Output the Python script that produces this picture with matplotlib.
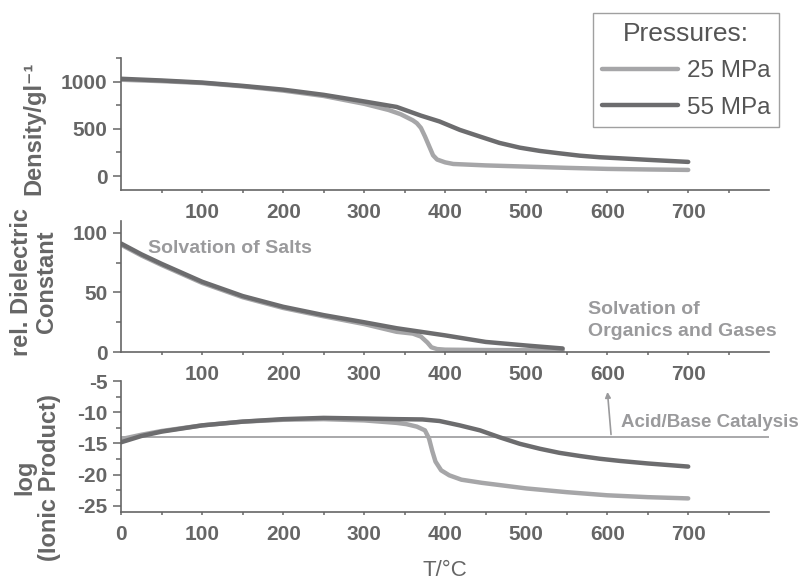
import matplotlib
matplotlib.use("Agg")
import matplotlib.pyplot as plt
from matplotlib.ticker import MultipleLocator, FixedLocator

plt.rcParams['font.family'] = ['Liberation Sans', 'DejaVu Sans']
plt.rcParams['axes.unicode_minus'] = False

# --- data ---
pressures = ['25 MPa', '55 MPa']

dens_t_25 = [0, 50, 100, 150, 200, 250, 300, 330, 345, 360, 365, 370, 375, 380, 385, 390, 400, 410, 450, 500, 550, 600, 650, 700]
dens_25 = [1020, 1005, 985, 950, 905, 848, 765, 700, 655, 590, 560, 510, 420, 320, 220, 175, 145, 128, 113, 100, 87, 76, 70, 65]
dens_t_55 = [0, 50, 100, 150, 200, 250, 300, 340, 370, 393, 418, 443, 467, 492, 517, 541, 566, 591, 616, 650, 700]
dens_55 = [1030, 1012, 990, 955, 915, 860, 790, 732, 640, 578, 489, 418, 351, 301, 266, 241, 216, 199, 188, 172, 150]

diel_t_25 = [0, 25, 50, 100, 150, 200, 250, 300, 340, 360, 370, 378, 383, 390, 400, 450, 500, 545]
diel_25 = [90, 81, 73, 58, 46, 37, 30, 23.5, 17, 15.5, 13, 8, 4, 2.5, 2.0, 1.7, 1.5, 1.4]
diel_t_55 = [0, 25, 50, 100, 150, 200, 250, 300, 340, 400, 450, 500, 545]
diel_55 = [91, 82, 74, 59, 47, 38, 31, 25, 20, 14, 8.5, 5.5, 3]

ion_t_25 = [0, 25, 50, 100, 150, 200, 250, 300, 340, 352, 365, 375, 380, 384, 388, 395, 405, 420, 445, 500, 550, 600, 650, 700]
ion_25 = [-14.3, -13.6, -13.0, -12.1, -11.5, -11.2, -11.1, -11.3, -11.7, -11.9, -12.3, -12.9, -14.2, -16.2, -17.9, -19.3, -20.1, -20.8, -21.3, -22.2, -22.8, -23.3, -23.6, -23.8]
ion_t_55 = [0, 25, 50, 100, 150, 200, 250, 300, 340, 372, 393, 418, 443, 467, 492, 517, 541, 566, 591, 616, 650, 700]
ion_55 = [-14.8, -13.8, -13.1, -12.1, -11.5, -11.1, -10.9, -11.0, -11.1, -11.15, -11.4, -12.1, -12.9, -14.0, -15.05, -15.85, -16.5, -17.0, -17.45, -17.8, -18.2, -18.7]

acid_base_level = -14

light = '#a6a6a8'
dark = '#6c6c6e'
axis_grey = '#666666'
note_grey = '#9a9a9c'

fig = plt.figure(figsize=(8.08, 5.8), dpi=100)
left, width = 0.150, 0.802
ax1 = fig.add_axes([left, 0.672, width, 0.228])
ax2 = fig.add_axes([left, 0.393, width, 0.226])
ax3 = fig.add_axes([left, 0.117, width, 0.226])


def style(ax, ylim, ymajor, yminor, xlabels_from):
    ax.set_xlim(0, 800)
    ax.set_ylim(*ylim)
    for s in ['top', 'right']:
        ax.spines[s].set_visible(False)
    for s in ['left', 'bottom']:
        ax.spines[s].set_color(axis_grey)
        ax.spines[s].set_linewidth(1.2)
    ax.xaxis.set_major_locator(FixedLocator(list(range(xlabels_from, 800, 100))))
    ax.xaxis.set_minor_locator(FixedLocator(list(range(50, 800, 100))))
    ax.yaxis.set_major_locator(MultipleLocator(ymajor))
    ax.yaxis.set_minor_locator(MultipleLocator(yminor))
    ax.tick_params(axis='x', which='both', length=2.5, width=1.1, color=axis_grey,
                   labelsize=15, labelcolor=axis_grey, pad=7)
    ax.tick_params(axis='y', which='major', length=6, width=1.1, color=axis_grey,
                   labelsize=15, labelcolor=axis_grey, pad=4)
    ax.tick_params(axis='y', which='minor', length=3.5, width=1.1, color=axis_grey)
    for lab in ax.get_xticklabels() + ax.get_yticklabels():
        lab.set_fontweight('bold')


# density
l1, = ax1.plot(dens_t_25, dens_25, color=light, lw=3.2, solid_capstyle='round', solid_joinstyle='round')
l2, = ax1.plot(dens_t_55, dens_55, color=dark, lw=3.2, solid_capstyle='round', solid_joinstyle='round')
style(ax1, (-150, 1250), 500, 250, 100)

# dielectric constant
ax2.plot(diel_t_25, diel_25, color=light, lw=3.2, solid_capstyle='round', solid_joinstyle='round')
ax2.plot(diel_t_55, diel_55, color=dark, lw=3.2, solid_capstyle='round', solid_joinstyle='round')
style(ax2, (0, 110), 50, 25, 100)
ax2.text(33, 87, 'Solvation of Salts', color=note_grey, fontsize=14, fontweight='bold', va='center')
ax2.text(576, 26.5, 'Solvation of\nOrganics and Gases', color=note_grey, fontsize=14,
         fontweight='bold', va='center', linespacing=1.35)

# ionic product
ax3.axhline(acid_base_level, color=note_grey, lw=1.2)
ax3.plot(ion_t_25, ion_25, color=light, lw=3.2, solid_capstyle='round', solid_joinstyle='round')
ax3.plot(ion_t_55, ion_55, color=dark, lw=3.2, solid_capstyle='round', solid_joinstyle='round')
style(ax3, (-26, -5), 5, 2.5, 0)
ax3.annotate('', xy=(600, -6.3), xytext=(605, acid_base_level),
             arrowprops=dict(arrowstyle='-|>', color=note_grey, lw=1.2, mutation_scale=8))
ax3.text(617, -11.6, 'Acid/Base Catalysis', color=note_grey, fontsize=13.5,
         fontweight='bold', va='center')

# axis labels
fig.text(0.042, 0.778, 'Density/gl⁻¹', rotation=90, ha='center', va='center',
         fontsize=17, fontweight='bold', color=axis_grey)
fig.text(0.042, 0.514, 'rel. Dielectric\nConstant', rotation=90, ha='center', va='center',
         fontsize=17, fontweight='bold', color=axis_grey, linespacing=1.1)
fig.text(0.046, 0.177, 'log\n(Ionic Product)', rotation=90, ha='center', va='center',
         fontsize=17, fontweight='bold', color=axis_grey, linespacing=1.1)
fig.text(0.551, 0.017, 'T/°C', ha='center', va='center', fontsize=16, color=axis_grey)

# legend
leg = fig.legend([l1, l2], pressures, title='Pressures:', loc='upper right',
                 bbox_to_anchor=(779 / 808, 1 - 13 / 580), fontsize=17.5, title_fontsize=19,
                 handlelength=3.15, frameon=True, fancybox=False, borderaxespad=0,
                 borderpad=0.35, labelspacing=0.6, handletextpad=0.35)
leg.get_frame().set_edgecolor('#888888')
leg.get_frame().set_linewidth(1.0)
for t in leg.get_texts():
    t.set_color('#555555')
leg.get_title().set_color('#555555')

fig.savefig('out.png', dpi=100)
